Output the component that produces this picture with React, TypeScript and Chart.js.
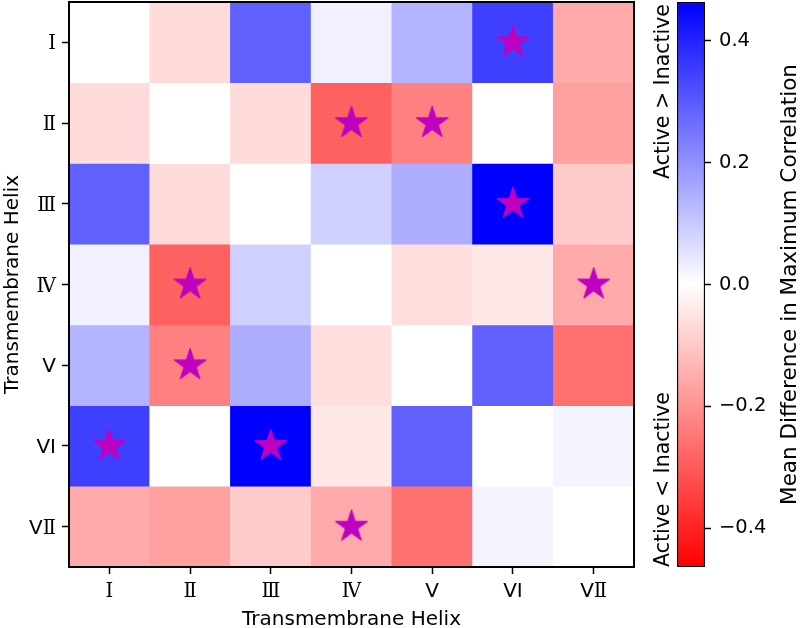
import React, { useEffect, useRef } from 'react';
import { Chart, registerables } from 'chart.js';

Chart.register(...registerables);

// ---------- data ----------
const helixLabels = ['Ⅰ', 'Ⅱ', 'Ⅲ', 'Ⅳ', 'V', 'VI', 'VⅡ'];

const rowI = [0, -0.066, 0.29, 0.027, 0.138, 0.35, -0.155];
const rowII = [-0.066, 0, -0.066, -0.29, -0.232, 0, -0.173];
const rowIII = [0.29, -0.066, 0, 0.085, 0.149, 0.464, -0.096];
const rowIV = [0.027, -0.29, 0.085, 0, -0.06, -0.042, -0.155];
const rowV = [0.138, -0.232, 0.149, -0.06, 0, 0.29, -0.26];
const rowVI = [0.35, 0, 0.464, -0.042, 0.29, 0, 0.02];
const rowVII = [-0.155, -0.173, -0.096, -0.155, -0.26, 0.02, 0];
const matrix = [rowI, rowII, rowIII, rowIV, rowV, rowVI, rowVII];

// significant pairs (row label, column label)
const starRows = ['Ⅰ', 'Ⅱ', 'Ⅱ', 'Ⅲ', 'Ⅳ', 'Ⅳ', 'V', 'VI', 'VI', 'VⅡ'];
const starCols = ['VI', 'Ⅳ', 'V', 'VI', 'Ⅱ', 'VⅡ', 'Ⅱ', 'Ⅰ', 'Ⅲ', 'Ⅳ'];

const colorbarTicks = [-0.4, -0.2, 0, 0.2, 0.4];
const vmax = 0.464;

const xTitle = 'Transmembrane Helix';
const yTitle = 'Transmembrane Helix';
const cbTitle = 'Mean Difference in Maximum Correlation';
const upperNote = 'Active > Inactive';
const lowerNote = 'Active < Inactive';

// ---------- helpers ----------
const FONT = 'DejaVu Sans';
const ROMAN_FONT = 'DejaVu Serif';

function valueToColor(v: number): string {
  const f = Math.min(1, Math.abs(v) / vmax);
  const c = Math.round(255 * (1 - f));
  return v >= 0 ? `rgb(${c},${c},255)` : `rgb(255,${c},${c})`;
}

function makeStar(R: number, color: string): HTMLCanvasElement {
  const size = Math.ceil(2 * R + 4);
  const cv = document.createElement('canvas');
  cv.width = size;
  cv.height = size;
  const g = cv.getContext('2d')!;
  const cx = size / 2;
  const cy = size / 2;
  const r = R * 0.382;
  g.beginPath();
  for (let i = 0; i < 10; i++) {
    const rad = i % 2 === 0 ? R : r;
    const a = -Math.PI / 2 + (i * Math.PI) / 5;
    const px = cx + rad * Math.cos(a);
    const py = cy + rad * Math.sin(a);
    if (i === 0) g.moveTo(px, py);
    else g.lineTo(px, py);
  }
  g.closePath();
  g.fillStyle = color;
  g.fill();
  g.lineWidth = 1;
  g.strokeStyle = color;
  g.stroke();
  return cv;
}

function fmtTick(v: number): string {
  const s = Math.abs(v).toFixed(1);
  return v < -1e-9 ? '\u2212' + s : s;
}

function fixPadding(s: any) {
  s.paddingTop = 0;
  s.paddingBottom = 0;
  s.paddingLeft = 0;
  s.paddingRight = 0;
}

// split a label into runs: Roman-numeral code points get the serif face
function runs(label: string): { text: string; font: string }[] {
  const out: { text: string; font: string }[] = [];
  for (const ch of Array.from(label)) {
    const cp = ch.codePointAt(0)!;
    const font = cp >= 0x2160 && cp <= 0x217f ? `19.5px "${ROMAN_FONT}"` : `20px "${FONT}"`;
    const last = out[out.length - 1];
    if (last && last.font === font) last.text += ch;
    else out.push({ text: ch, font });
  }
  return out;
}

function drawLabel(ctx: CanvasRenderingContext2D, label: string, x: number, y: number, align: 'center' | 'right') {
  const parts = runs(label);
  let total = 0;
  for (const p of parts) {
    ctx.font = p.font;
    total += ctx.measureText(p.text).width;
  }
  let cx = align === 'center' ? x - total / 2 : x - total;
  ctx.textAlign = 'left';
  for (const p of parts) {
    ctx.font = p.font;
    ctx.fillText(p.text, cx, y);
    cx += ctx.measureText(p.text).width;
  }
}

export default function App() {
  const mainRef = useRef<HTMLCanvasElement>(null);
  const cbRef = useRef<HTMLCanvasElement>(null);

  useEffect(() => {
    document.body.style.margin = '0';
    const star = makeStar(17, '#bf00bf');

    const mainTitles = {
      id: 'mainTitles',
      afterDraw(chart: any) {
        const { ctx, chartArea, scales } = chart;
        ctx.save();
        ctx.strokeStyle = '#000';
        ctx.lineWidth = 2;
        ctx.strokeRect(chartArea.left, chartArea.top, chartArea.right - chartArea.left, chartArea.bottom - chartArea.top);
        ctx.fillStyle = '#000';
        ctx.textBaseline = 'alphabetic';
        // tick labels
        helixLabels.forEach((lab, i) => {
          drawLabel(ctx, lab, scales.x.getPixelForValue(i), chartArea.bottom + 30, 'center');
          drawLabel(ctx, lab, chartArea.left - 13, scales.y.getPixelForValue(6.5 - i) + 7, 'right');
        });
        ctx.font = `20px "${FONT}"`;
        ctx.textAlign = 'center';
        ctx.fillText(xTitle, (chartArea.left + chartArea.right) / 2, 625);
        ctx.translate(17.5, (chartArea.top + chartArea.bottom) / 2);
        ctx.rotate(-Math.PI / 2);
        ctx.fillText(yTitle, 0, 0);
        ctx.restore();
      },
    };

    const main = new Chart(mainRef.current!, {
      type: 'bar',
      data: {
        labels: helixLabels,
        datasets: [
          {
            type: 'scatter',
            data: starRows.map((r, i) => ({ x: starCols[i], y: 6.5 - helixLabels.indexOf(r) })),
            pointStyle: star,
            pointRadius: 1,
            pointHoverRadius: 1,
            clip: false,
            order: 0,
          } as any,
          ...matrix.map((row, i) => ({
            type: 'bar',
            data: row.map(() => [6 - i, 7 - i]),
            backgroundColor: row.map(valueToColor),
            borderWidth: 0,
            barPercentage: 1,
            categoryPercentage: 1,
            grouped: false,
            order: 1,
          })),
        ],
      },
      options: {
        animation: false,
        responsive: false,
        maintainAspectRatio: false,
        events: [],
        layout: { padding: { top: 2, right: 6, left: 0, bottom: 0 } },
        plugins: { legend: { display: false }, tooltip: { enabled: false } },
        scales: {
          x: {
            type: 'category',
            offset: true,
            afterFit: (s: any) => { s.height = 61; fixPadding(s); },
            grid: { offset: false, drawOnChartArea: false, drawTicks: true, tickLength: 7, tickColor: '#000', tickWidth: 1.5 },
            border: { display: true, color: '#000', width: 2 },
            ticks: { display: false, autoSkip: false },
          },
          y: {
            type: 'linear',
            min: 0,
            max: 7,
            afterFit: (s: any) => { s.width = 69; fixPadding(s); },
            afterBuildTicks: (s: any) => { s.ticks = helixLabels.map((_, i) => ({ value: 6.5 - i })); },
            grid: { drawOnChartArea: false, drawTicks: true, tickLength: 7, tickColor: '#000', tickWidth: 1.5 },
            border: { display: true, color: '#000', width: 2 },
            ticks: {
              display: false,
              autoSkip: false,
              callback: (v: any) => helixLabels[Math.round(6.5 - Number(v))],
            },
          },
        },
      } as any,
      plugins: [mainTitles],
    });

    const cbTexts = {
      id: 'cbTexts',
      afterDraw(chart: any) {
        const { ctx, chartArea } = chart;
        ctx.save();
        ctx.fillStyle = '#000';
        ctx.textBaseline = 'alphabetic';
        ctx.font = `20.5px "${FONT}"`;
        ctx.textAlign = 'left';
        ctx.save();
        ctx.translate(29, 179);
        ctx.rotate(-Math.PI / 2);
        ctx.fillText(upperNote, 0, 0);
        ctx.restore();
        ctx.save();
        ctx.translate(29, chartArea.bottom);
        ctx.rotate(-Math.PI / 2);
        ctx.fillText(lowerNote, 0, 0);
        ctx.restore();
        ctx.font = `21.5px "${FONT}"`;
        ctx.textAlign = 'center';
        ctx.translate(156, (chartArea.top + chartArea.bottom) / 2);
        ctx.rotate(-Math.PI / 2);
        ctx.fillText(cbTitle, 0, 0);
        ctx.restore();
      },
    };

    const cb = new Chart(cbRef.current!, {
      type: 'bar',
      data: {
        labels: [''],
        datasets: [
          {
            data: [[-vmax, vmax]],
            backgroundColor: (c: any) => {
              const chart = c.chart;
              const ys = chart.scales?.y;
              if (!chart.chartArea || !ys) return '#fff';
              const g = chart.ctx.createLinearGradient(0, ys.getPixelForValue(-vmax), 0, ys.getPixelForValue(vmax));
              g.addColorStop(0, 'rgb(255,0,0)');
              g.addColorStop(0.5, 'rgb(255,255,255)');
              g.addColorStop(1, 'rgb(0,0,255)');
              return g;
            },
            borderColor: '#000',
            borderWidth: 1.5,
            borderSkipped: false,
            barPercentage: 1,
            categoryPercentage: 1,
          } as any,
        ],
      },
      options: {
        animation: false,
        responsive: false,
        maintainAspectRatio: false,
        events: [],
        layout: { padding: { top: 2, left: 37, right: 0, bottom: 61 } },
        plugins: { legend: { display: false }, tooltip: { enabled: false } },
        scales: {
          x: { display: false },
          y: {
            position: 'right',
            min: -vmax,
            max: vmax,
            afterFit: (s: any) => { s.width = 95; fixPadding(s); },
            afterBuildTicks: (s: any) => { s.ticks = colorbarTicks.map((v) => ({ value: v })); },
            grid: { drawOnChartArea: false, drawTicks: true, tickLength: 6, tickColor: '#000', tickWidth: 1.5 },
            border: { display: false },
            ticks: {
              color: '#000',
              font: { family: FONT, size: 19.5 },
              padding: 8,
              callback: (v: any) => fmtTick(Number(v)),
            },
          },
        },
      } as any,
      plugins: [cbTexts],
    });

    return () => {
      main.destroy();
      cb.destroy();
    };
  }, []);

  return (
    <div style={{ position: 'relative', width: 800, height: 628, background: '#fff' }}>
      <canvas ref={mainRef} width={640} height={628} style={{ position: 'absolute', left: 0, top: 0, width: 640, height: 628 }} />
      <canvas ref={cbRef} width={160} height={628} style={{ position: 'absolute', left: 640, top: 0, width: 160, height: 628 }} />
    </div>
  );
}
